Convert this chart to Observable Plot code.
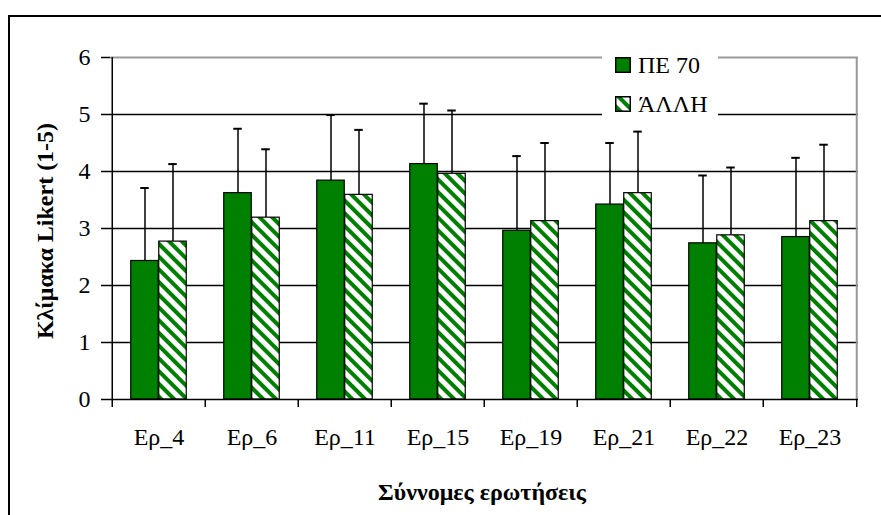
<!DOCTYPE html>
<html>
<head>
<meta charset="utf-8">
<script src="https://cdn.jsdelivr.net/npm/d3@7"></script>
<script src="https://cdn.jsdelivr.net/npm/@observablehq/plot@0.6"></script>
<style>
  html, body { margin: 0; padding: 0; background: #fff; }
  #wrap { position: relative; width: 881px; height: 515px; overflow: hidden; font-family: "Liberation Serif", "Times New Roman", serif; }
  #frame { position: absolute; left: 8px; top: 15px; width: 1000px; height: 1000px; border-left: 2px solid #000; border-top: 2px solid #000; }
  #chart { position: absolute; left: 0; top: 0; }
  #legend { position: absolute; left: 602px; top: 46px; width: 116px; height: 78px; background: #fff; }
  .item { position: absolute; left: 13px; height: 26px; }
  .item svg { position: absolute; left: 0; }
  .item span { position: absolute; left: 23px; top: 0; font-size: 24px; line-height: 24px; white-space: nowrap; color: #000; }
  #ytitle { position: absolute; left: 45px; top: 231px; transform: translate(-50%, -50%) rotate(-90deg); font-weight: bold; font-size: 24px; white-space: nowrap; }
  #xtitle { position: absolute; left: 482px; top: 492px; transform: translate(-50%, -50%); font-weight: bold; font-size: 24px; white-space: nowrap; }
</style>
</head>
<body>
<svg width="0" height="0" style="position:absolute">
  <defs>
    <pattern id="hatch" patternUnits="userSpaceOnUse" width="9" height="9" patternTransform="rotate(-45)">
      <rect x="0" y="0" width="9" height="9" fill="#fff"></rect>
      <rect x="0" y="0" width="4" height="9" fill="#008000"></rect>
    </pattern>
  </defs>
</svg>
<div id="wrap">
  <div id="frame"></div>
  <div id="chart"></div>
  <div id="legend"></div>
  <div id="ytitle"></div>
  <div id="xtitle"></div>
</div>
<script>
// ---- data ----
const categories = ["Ερ_4", "Ερ_6", "Ερ_11", "Ερ_15", "Ερ_19", "Ερ_21", "Ερ_22", "Ερ_23"];
const seriesNames = ["ΠΕ 70", "ΆΛΛΗ"];
const pe70 = [2.43, 3.62, 3.84, 4.13, 2.96, 3.42, 2.74, 2.85];
const pe70Sd = [1.28, 1.13, 1.15, 1.06, 1.31, 1.08, 1.19, 1.39];
const alli = [2.77, 3.19, 3.59, 3.96, 3.13, 3.62, 2.88, 3.13];
const alliSd = [1.36, 1.20, 1.14, 1.11, 1.37, 1.08, 1.19, 1.34];
const yTicks = [0, 1, 2, 3, 4, 5, 6];
const yTitle = "Κλίμακα Likert (1-5)";
const xTitle = "Σύννομες ερωτήσεις";

const rows = categories.map((c, i) => ({
  cat: c,
  pe: pe70[i], peTop: pe70[i] + pe70Sd[i],
  al: alli[i], alTop: alli[i] + alliSd[i]
}));

// ---- layout ----
const W = 881, H = 515, mL = 110, mR = 23, mT = 57, mB = 116;
const bw = (W - mL - mR) / categories.length;
const barW = 28;
const inset = (bw - barW) / 2;
const capW = 9;
const capInset = (bw - capW) / 2;
const green = "#008000";
const last = categories[categories.length - 1];

const chart = Plot.plot({
  width: W, height: H,
  marginLeft: mL, marginRight: mR, marginTop: mT, marginBottom: mB,
  style: { fontFamily: "'Liberation Serif', 'Times New Roman', serif", background: "transparent", color: "#000", overflow: "visible" },
  x: { domain: categories, padding: 0, label: null },
  y: { domain: [0, 6], label: null },
  marks: [
    Plot.ruleY(yTicks.filter(d => d > 0 && d < 6), { stroke: "#000", strokeWidth: 1.5 }),
    Plot.ruleY([6], { stroke: "#999", strokeWidth: 2 }),
    Plot.ruleX([last], { x: d => d, dx: bw / 2, stroke: "#999", strokeWidth: 2 }),
    // error bars
    Plot.ruleX(rows, { x: "cat", y1: "pe", y2: "peTop", dx: -barW / 2, stroke: "#000", strokeWidth: 1.5 }),
    Plot.tickY(rows, { x: "cat", y: "peTop", dx: -barW / 2, insetLeft: capInset, insetRight: capInset, stroke: "#000", strokeWidth: 2 }),
    Plot.ruleX(rows, { x: "cat", y1: "al", y2: "alTop", dx: barW / 2, stroke: "#000", strokeWidth: 1.5 }),
    Plot.tickY(rows, { x: "cat", y: "alTop", dx: barW / 2, insetLeft: capInset, insetRight: capInset, stroke: "#000", strokeWidth: 2 }),
    // bars
    Plot.barY(rows, { x: "cat", y: "pe", dx: -barW / 2, insetLeft: inset, insetRight: inset, fill: green, stroke: "#000", strokeWidth: 1.2 }),
    Plot.barY(rows, { x: "cat", y: "al", dx: barW / 2, insetLeft: inset, insetRight: inset, fill: "url(#hatch)", stroke: "#000", strokeWidth: 1.2 }),
    // axes lines and ticks
    Plot.ruleY([0], { stroke: "#000", strokeWidth: 1.5 }),
    Plot.ruleX([categories[0]], { x: d => d, dx: -bw / 2, stroke: "#000", strokeWidth: 1.5 }),
    Plot.ruleX(categories, { x: d => d, y1: 0, y2: 0, dx: -bw / 2, insetBottom: -8, stroke: "#000", strokeWidth: 1.5 }),
    Plot.ruleX([last], { x: d => d, y1: 0, y2: 0, dx: bw / 2, insetBottom: -8, stroke: "#000", strokeWidth: 1.5 }),
    Plot.axisY({ ticks: yTicks, tickSize: 9, tickPadding: 11, fontSize: 24, label: null, tickFormat: d => String(d), stroke: "#000", strokeWidth: 1.5 }),
    Plot.axisX({ tickSize: 0, tickPadding: 28, fontSize: 24, label: null })
  ]
});
document.getElementById("chart").appendChild(chart);

// ---- legend ----
const legend = document.getElementById("legend");
const swFill = [green, "url(#lhatch)"];
seriesNames.forEach((name, i) => {
  const item = document.createElement("div");
  item.className = "item";
  item.style.top = (7 + i * 39) + "px";
  item.innerHTML =
    `<svg width="16" height="16" style="top:4px">` +
    (i === 1 ? `<defs><pattern id="lhatch" patternUnits="userSpaceOnUse" width="9" height="9" patternTransform="rotate(-45)"><rect width="9" height="9" fill="#fff"/><rect width="4" height="9" fill="${green}"/></pattern></defs>` : "") +
    `<rect x="0.75" y="0.75" width="14.5" height="14.5" fill="${swFill[i]}" stroke="#000" stroke-width="1.5"/></svg>` +
    `<span></span>`;
  item.querySelector("span").textContent = name;
  legend.appendChild(item);
});

document.getElementById("ytitle").textContent = yTitle;
document.getElementById("xtitle").textContent = xTitle;
</script>
</body>
</html>
